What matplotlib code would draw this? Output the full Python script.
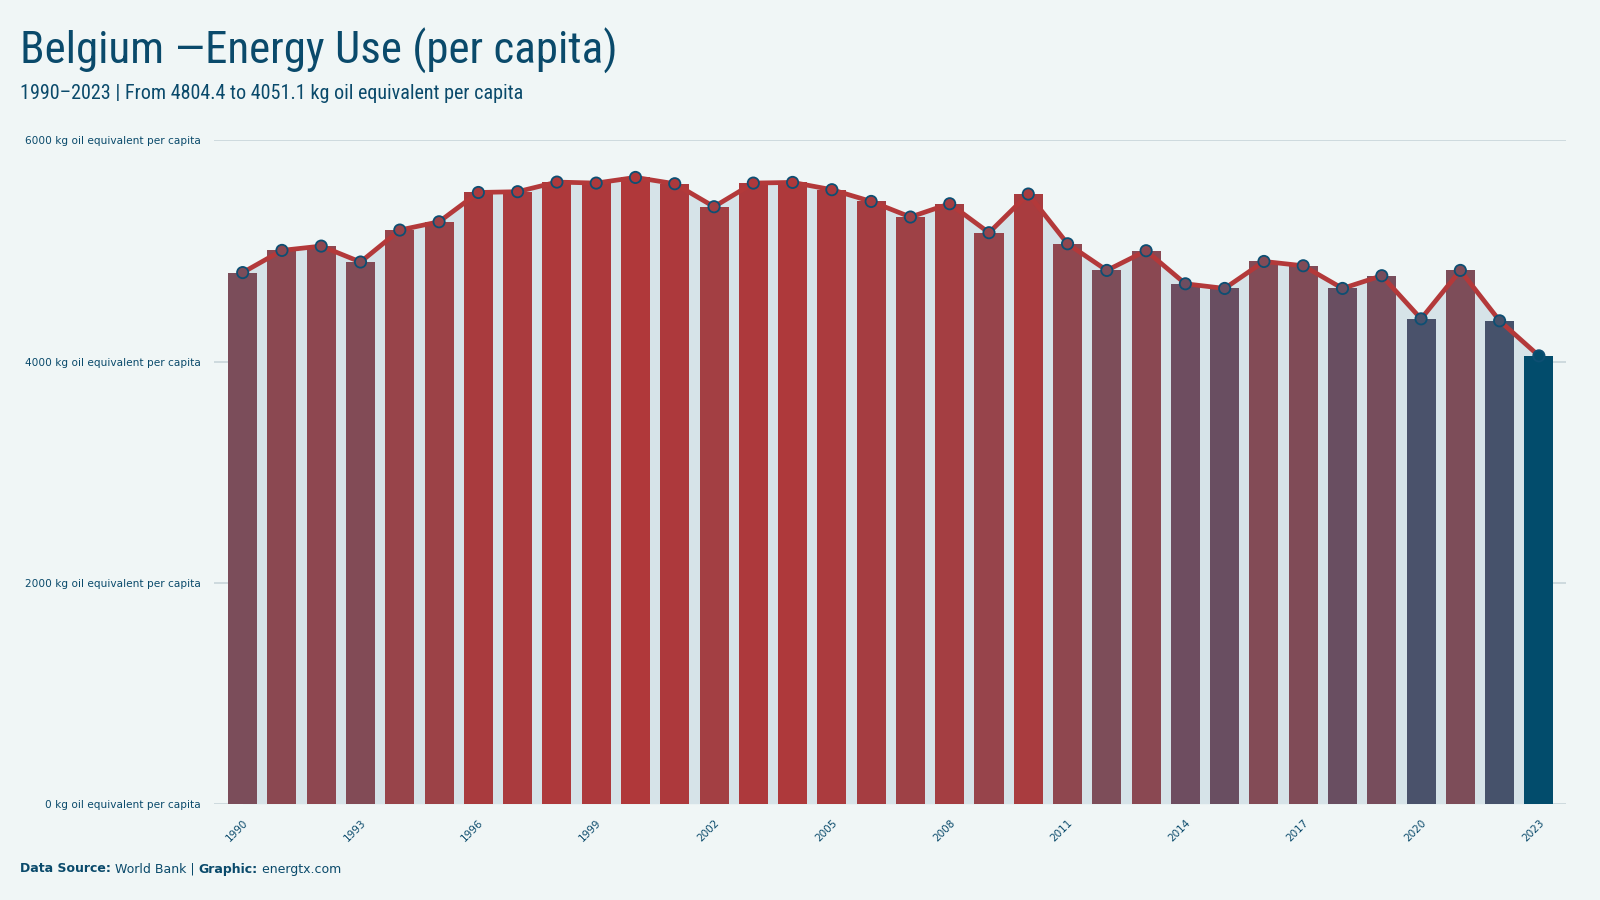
import matplotlib
matplotlib.use('Agg')
import matplotlib.pyplot as plt
import numpy as np
from matplotlib.colors import LinearSegmentedColormap, Normalize
from matplotlib import font_manager
from matplotlib.font_manager import FontProperties

years = list(range(1990, 2024))
values = [4804.4, 5005, 5044, 4900, 5189, 5264, 5529, 5536, 5623, 5614,
          5665, 5608, 5400, 5614, 5620, 5554, 5448, 5307, 5427, 5165,
          5515, 5065, 4824, 5002, 4703, 4661, 4905, 4866, 4661, 4776,
          4386, 4824, 4368, 4051.1]
y_ticks = [0, 2000, 4000, 6000]
y_tick_labels = [f"{v} kg oil equivalent per capita" for v in y_ticks]
x_tick_years = years[::3]

BG = '#f0f6f6'
TXT = '#0a4a6b'
AREA = '#d6e3e8'
LINE = '#b3393a'
EDGE = '#0d4f73'

# look for a condensed / narrow face
cond = None
cands = []
for f in font_manager.fontManager.ttflist:
    nm = f.name
    st = str(f.stretch)
    is_cond = ('Condensed' in nm or 'Narrow' in nm or 'condensed' in st
               or 'Condensed' in f.fname or 'Narrow' in f.fname)
    if is_cond and f.style == 'normal' and f.weight in (400, 'normal', 'regular', 'book'):
        if 'Bold' in f.fname or 'Light' in f.fname or 'Italic' in f.fname or 'Thin' in f.fname \
                or 'Black' in f.fname or 'Medium' in f.fname or 'Semi' in f.fname or 'Extra' in f.fname:
            continue
        cands.append(f)
pref = ['Roboto', 'Open Sans', 'Noto Sans', 'DejaVu', 'Liberation', 'Lato', 'Inter']
for p in pref:
    for f in cands:
        if p.replace(' ', '') in f.fname.replace(' ', '') or p in f.name:
            cond = f.fname
            break
    if cond:
        break
if cond is None and cands:
    cond = cands[0].fname
title_fp = FontProperties(fname=cond) if cond else FontProperties(family='DejaVu Sans')

cmap = LinearSegmentedColormap.from_list('eu', [
    (0.0, '#024c6c'), (0.21, '#4b526b'), (0.40, '#6d4d60'),
    (0.466, '#7b4d5a'), (0.70, '#98444a'), (1.0, '#b0383a')])
norm = Normalize(min(values), max(values))
colors = [cmap(norm(v)) for v in values]

fig = plt.figure(figsize=(16, 9), dpi=100, facecolor=BG)
ax = fig.add_axes([0.134, 0.107, 0.845, 0.737])
ax.set_facecolor(BG)

x = np.arange(len(years))
ax.fill_between(x, values, 0, color=AREA, zorder=1, linewidth=0)
ax.bar(x, values, width=0.74, color=colors, zorder=2)
ax.plot(x, values, color=LINE, linewidth=3.4, zorder=3, solid_joinstyle='round')
ax.scatter(x, values, s=66, c=colors, edgecolors=EDGE, linewidths=1.3, zorder=4)

ax.set_xlim(-0.72, 33.7)
ax.set_ylim(0, 6000)
ax.set_yticks(y_ticks)
ax.set_yticklabels(y_tick_labels, fontsize=7.6, color=TXT, family='DejaVu Sans')
ax.set_xticks([years.index(yv) for yv in x_tick_years])
ax.set_xticklabels([str(yv) for yv in x_tick_years], rotation=45, ha='right',
                   rotation_mode='anchor', fontsize=7.5, color=TXT, family='DejaVu Sans')
ax.tick_params(axis='both', length=0)
ax.tick_params(axis='y', pad=10)
ax.tick_params(axis='x', pad=10)
for s in ax.spines.values():
    s.set_visible(False)
ax.yaxis.grid(True, color='#cbd7dc', linewidth=1.3, zorder=0)
ax.set_axisbelow(True)

fig.canvas.draw()
r = fig.canvas.get_renderer()

def fit_text(xf, yf, s, target_w, size, fp, **kw):
    fp = fp.copy()
    fp.set_size(size)
    t = fig.text(xf, yf, s, fontproperties=fp, **kw)
    w = t.get_window_extent(renderer=r).width
    fp.set_size(size * target_w / w)
    t.set_fontproperties(fp)
    return t

fit_text(0.0125, 0.943, 'Belgium —Energy Use (per capita)', 598, 34, title_fp, color=TXT,
         va='center', ha='left')
fit_text(0.0125, 0.896, '1990–2023 | From 4804.4 to 4051.1 kg oil equivalent per capita',
         505, 14, title_fp, color=TXT, va='center', ha='left')

parts = [('Data Source:', 'bold'), (' World Bank | ', 'normal'), ('Graphic:', 'bold'), (' energtx.com', 'normal')]
xpos = 20
for txt, w in parts:
    t = fig.text(xpos / 1600, 1 - 869 / 900, txt, fontsize=9, color=TXT, fontweight=w,
                 va='center', ha='left', family='DejaVu Sans')
    bb = t.get_window_extent(renderer=r)
    xpos += bb.width

fig.savefig('out.png', dpi=100, facecolor=BG)
